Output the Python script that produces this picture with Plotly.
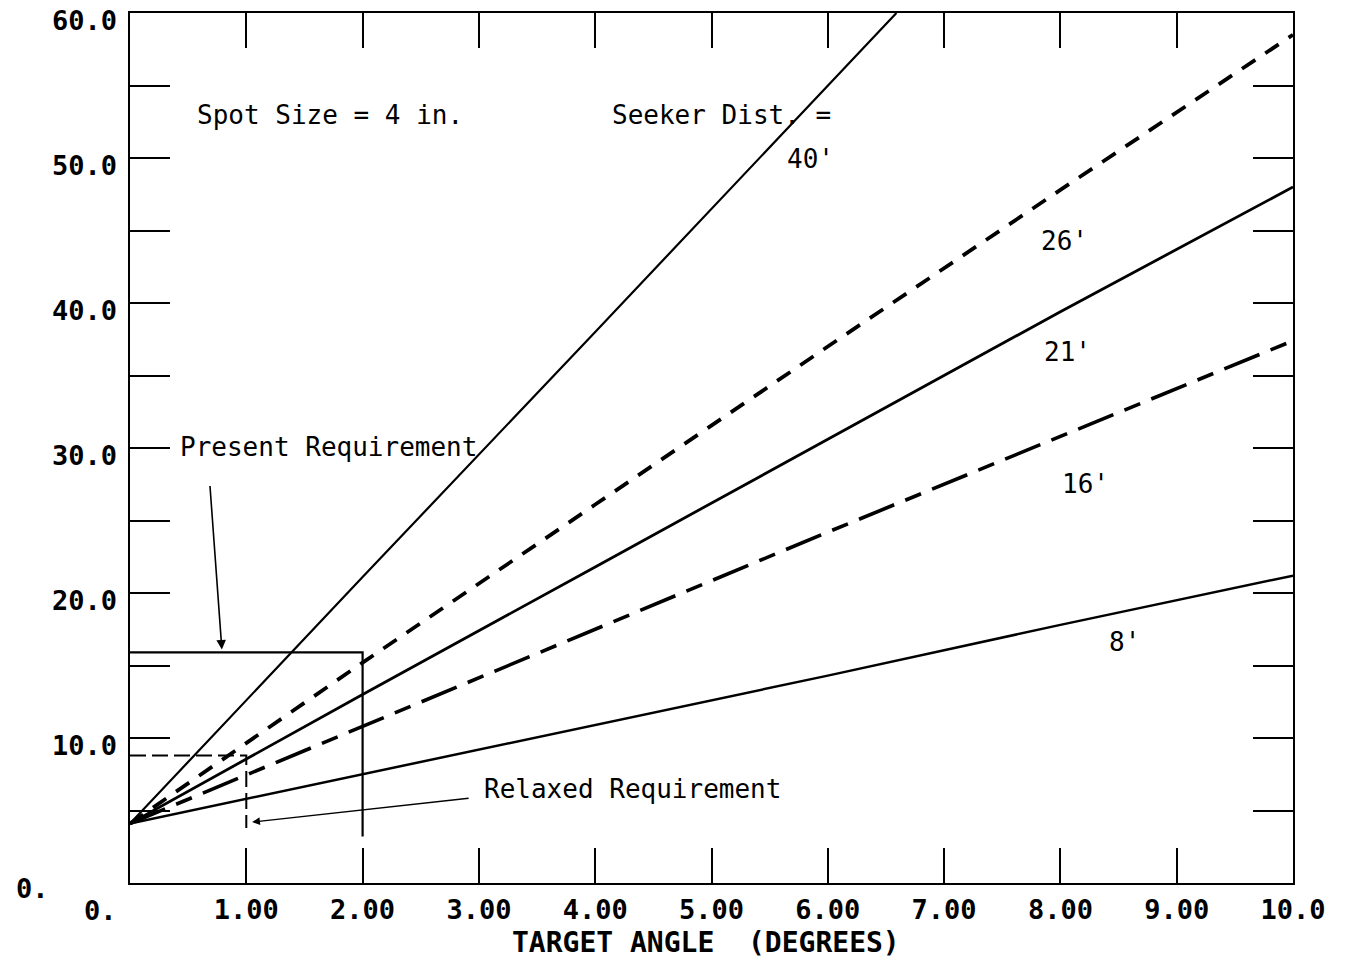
import plotly.graph_objects as go

# ---- data ----
angle = [0, 2, 4, 6, 8, 10]
d40_x = [0, 2, 4, 6, 6.59]
d40_y = [4.1, 21.1, 38.0, 55.0, 60.0]
d26_y = [4.1, 15.2, 26.1, 37.0, 47.8, 58.5]
d21_y = [4.1, 13.0, 21.8, 30.6, 39.4, 48.0]
d16_y = [4.1, 10.8, 17.5, 24.2, 30.8, 37.4]
d8_y = [4.1, 7.5, 10.9, 14.3, 17.8, 21.2]

present_box_x = [0, 2, 2]
present_box_y = [15.9, 15.9, 3.2]
relaxed_box_x = [0, 1, 1]
relaxed_box_y = [8.8, 8.8, 3.8]

x_ticks = [0, 1, 2, 3, 4, 5, 6, 7, 8, 9, 10]
x_tick_text = ["", "1.00", "2.00", "3.00", "4.00", "5.00", "6.00", "7.00", "8.00", "9.00", "10.0"]
y_ticks = [0, 5, 10, 15, 20, 25, 30, 35, 40, 45, 50, 55, 60]
y_label_vals = [10, 20, 30, 40, 50, 60]
y_label_text = ["10.0", "20.0", "30.0", "40.0", "50.0", "60.0"]

labels = ["40'", "26'", "21'", "16'", "8'"]
label_x = [5.63, 7.82, 7.84, 8.0, 8.4]
label_y = [49.9, 44.3, 36.6, 27.5, 16.6]

MONO = "DejaVu Sans Mono"
BLK = "black"

fig = go.Figure()


def line(x, y, width=2.2, dash="solid"):
    fig.add_trace(go.Scatter(x=x, y=y, mode="lines",
                             line=dict(color=BLK, width=width, dash=dash),
                             showlegend=False, hoverinfo="skip"))


line(d40_x, d40_y, width=2.2)
line(angle, d26_y, width=3.8, dash="16px,12px")
line(angle, d21_y, width=2.8)
line(angle, d16_y, width=3.6, dash="38px,12px,17px,12px")
line(angle, d8_y, width=2.5)
line(present_box_x, present_box_y, width=2.2)
line(relaxed_box_x, relaxed_box_y, width=2.0, dash="16px,6px")

txt_font = dict(family=MONO, size=26, color=BLK)
bold_font = dict(family=MONO, size=27, color=BLK, weight="bold")

ann = []
ann.append(dict(x=0.56, y=53.0, text="Spot Size = 4 in.", xanchor="left"))
ann.append(dict(x=4.13, y=53.0, text="Seeker Dist. =", xanchor="left"))
for t, lx, ly in zip(labels, label_x, label_y):
    ann.append(dict(x=lx, y=ly, text=t, xanchor="left"))
ann.append(dict(x=0.41, y=30.1, text="Present Requirement", xanchor="left"))
ann.append(dict(x=3.03, y=6.5, text="Relaxed Requirement", xanchor="left"))
annotations = []
for a in ann:
    a.update(xref="x", yref="y", showarrow=False, font=txt_font, yanchor="middle")
    annotations.append(a)

# y tick labels (sit slightly below their ticks, as in the reference)
for v, t in zip(y_label_vals, y_label_text):
    annotations.append(dict(x=(119 - 130) / (1293 - 130), y=v, xref="paper", yref="y",
                            text=t, showarrow=False, font=bold_font,
                            xanchor="right", yanchor="middle", yshift=-7))

# arrows
annotations.append(dict(x=0.79, y=16.1, xref="x", yref="y", text="", showarrow=True,
                        ax=-12, ay=-165, arrowhead=2, arrowsize=1.2, arrowwidth=1.6,
                        arrowcolor=BLK))
annotations.append(dict(x=1.05, y=4.2, xref="x", yref="y", text="", showarrow=True,
                        ax=218, ay=-24, arrowhead=2, arrowsize=1.2, arrowwidth=1.3,
                        arrowcolor=BLK))

# zero labels and axis title (positions in page pixels)
page_texts = [
    ("0.", 32, 888, bold_font, "center"),
    ("0.", 100, 910, bold_font, "center"),
    ("TARGET ANGLE\u00a0\u00a0(DEGREES)", 706, 943,
     dict(family=MONO, size=28, color=BLK, weight="bold"), "center"),
]
for t, px, py, f, xa in page_texts:
    annotations.append(dict(x=(px - 130) / (1293 - 130), y=(883 - py) / (883 - 13),
                            xref="paper", yref="paper", text=t, showarrow=False,
                            font=f, xanchor=xa, yanchor="middle"))

fig.update_layout(
    width=1364, height=962,
    margin=dict(l=130, r=71, t=13, b=79),
    paper_bgcolor="white", plot_bgcolor="white",
    annotations=annotations,
    xaxis=dict(range=[0, 10], tickvals=x_ticks, ticktext=x_tick_text,
               ticks="inside", ticklen=35, tickwidth=2.2, tickcolor=BLK,
               showline=True, linecolor=BLK, linewidth=2.4, mirror="ticks",
               showgrid=False, zeroline=False,
               tickfont=bold_font, ticklabelstandoff=1),
    yaxis=dict(range=[0, 60], tickvals=y_ticks, showticklabels=False,
               ticks="inside", ticklen=40, tickwidth=2.2, tickcolor=BLK,
               showline=True, linecolor=BLK, linewidth=2.4, mirror="ticks",
               showgrid=False, zeroline=False),
)

fig.write_html("out.html")
